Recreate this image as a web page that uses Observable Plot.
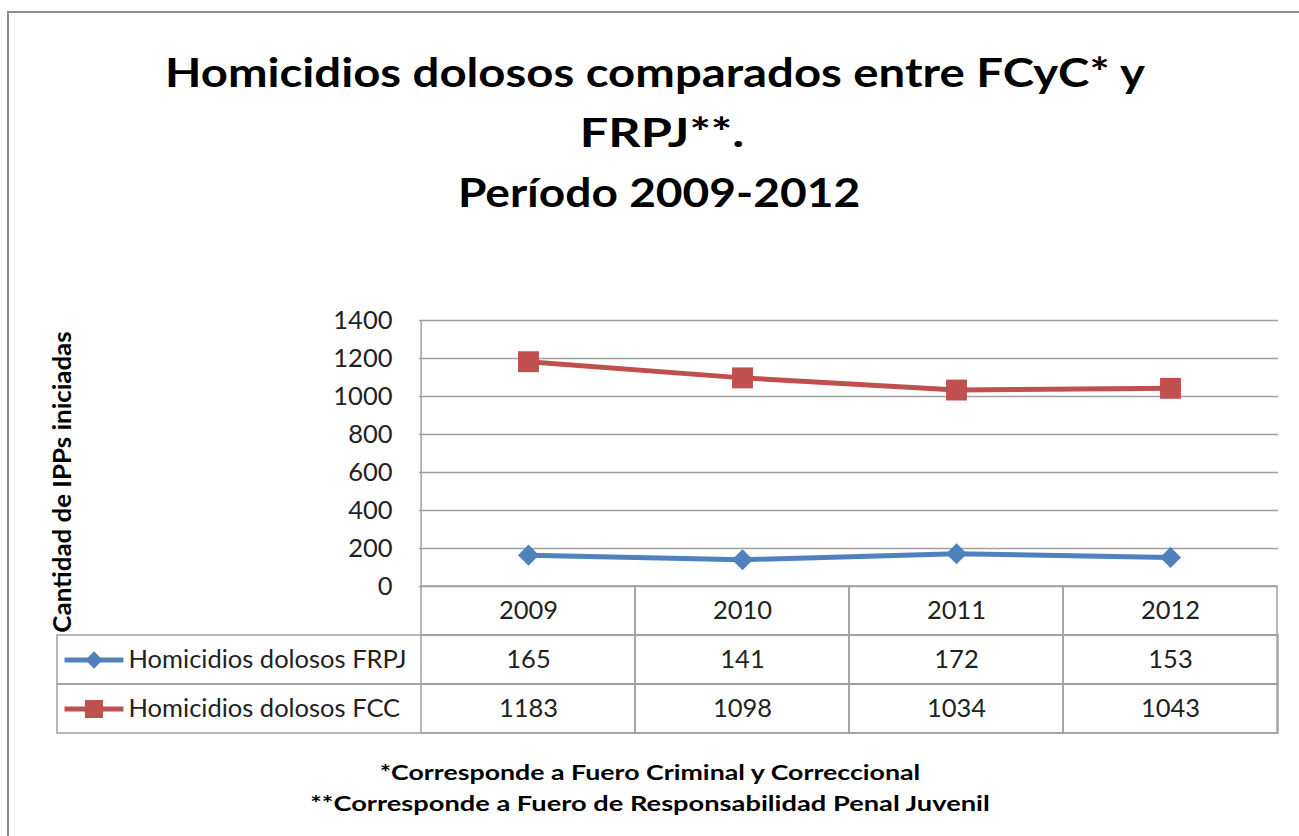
<!DOCTYPE html>
<html>
<head>
<meta charset="utf-8">
<script src="https://cdn.jsdelivr.net/npm/d3@7"></script>
<script src="https://cdn.jsdelivr.net/npm/@observablehq/plot@0.6"></script>
<style>
html, body { margin: 0; padding: 0; background: #fff; }
body { width: 1299px; height: 836px; position: relative; overflow: hidden; font-family: Lato, "Open Sans", sans-serif; color: #000; }
#border { position: absolute; left: 7px; top: 11px; width: 1400px; height: 900px; border-left: 2px solid #8c8c8c; border-top: 2px solid #8c8c8c; }
.line { position: absolute; white-space: nowrap; font-weight: 700; }
.line span { display: inline-block; transform-origin: center center; }
.t { font-size: 40px; line-height: 60px; height: 60px; }
.f { font-size: 20px; line-height: 30px; height: 30px; }
.yt { font-size: 24px; line-height: 30px; height: 30px; }
#chart, #table { position: absolute; left: 0; }
#chart { top: 280px; }
#table { top: 586px; }
</style>
</head>
<body>
<div id="border"></div>
<div id="titles"></div>
<div id="chart"></div>
<div id="table"></div>
<div id="notes"></div>
<script>
// ---- data ----
const years = ["2009", "2010", "2011", "2012"];
const seriesNames = ["Homicidios dolosos FRPJ", "Homicidios dolosos FCC"];
const frpj = [165, 141, 172, 153];
const fcc = [1183, 1098, 1034, 1043];
const yTicks = [0, 200, 400, 600, 800, 1000, 1200, 1400];
const titleLines = ["Homicidios dolosos comparados entre FCyC* y", "FRPJ**.", "Período 2009-2012"];
const yTitle = "Cantidad de IPPs iniciadas";
const notes = ["*Corresponde a Fuero Criminal y Correccional", "**Corresponde a Fuero de Responsabilidad  Penal Juvenil"];
const colors = ["#4F81BD", "#C0504D"];
const symbols = ["diamond2", "square"];

const data = years.flatMap((yr, i) => [
  {year: yr, series: seriesNames[0], value: frpj[i]},
  {year: yr, series: seriesNames[1], value: fcc[i]}
]);
const cells = ["", ...seriesNames].flatMap(row => years.map(yr => ({year: yr, row})));

// ---- layout ----
const W = 1299, mL = 419, mR = 21;
const bw = (W - mL - mR) / years.length;
const grid = "#a0a0a0";
const font = "Lato, 'Open Sans', sans-serif";
const fs = 25.5;

// ---- titles, axis title & notes (HTML) ----
function addLine(parent, text, cls, top, cx, targetW, rot) {
  const d = document.createElement("div");
  d.className = "line " + cls;
  d.style.top = top + "px";
  d.style.left = cx + "px";
  const s = document.createElement("span");
  s.textContent = text;
  d.appendChild(s);
  parent.appendChild(d);
  d._fit = () => {
    s.style.transform = "";
    const w = s.offsetWidth;
    const sc = targetW / w;
    d.style.transform = "translateX(-50%)" + (rot ? ` rotate(${rot}deg)` : "");
    s.style.transform = `scaleX(${sc})`;
  };
  return d;
}
const tdiv = document.getElementById("titles");
const ndiv = document.getElementById("notes");
const fitters = [
  addLine(tdiv, titleLines[0], "t", 41.5, 655, 980),
  addLine(tdiv, titleLines[1], "t", 101.5, 662, 165),
  addLine(tdiv, titleLines[2], "t", 161.5, 659, 402),
  addLine(tdiv, yTitle, "yt", 467, 62, 301, -90),
  addLine(ndiv, notes[0], "f", 757, 650, 540),
  addLine(ndiv, notes[1], "f", 788, 650, 680)
];
fitters.forEach(f => f._fit());
if (document.fonts) document.fonts.ready.then(() => fitters.forEach(f => f._fit()));

// ---- chart ----
const style = {background: "transparent", overflow: "visible", fontFamily: font};
const lineSymbol = {draw(ctx) { ctx.moveTo(-29.5, 0); ctx.lineTo(29.5, 0); }};

const chart = Plot.plot({
  width: W, height: 306,
  marginTop: 40, marginBottom: 0, marginLeft: mL, marginRight: mR,
  style,
  x: {type: "band", domain: years, padding: 0, axis: null},
  y: {domain: [0, 1400]},
  color: {domain: seriesNames, range: colors},
  symbol: {domain: seriesNames, range: symbols},
  marks: [
    Plot.ruleY(yTicks, {stroke: grid, strokeWidth: 1.5}),
    Plot.ruleX(years.slice(0, 1), {x: d => d, dx: -bw / 2, stroke: grid, strokeWidth: 1.5}),
    Plot.axisY(yTicks, {tickSize: 0, tickPadding: 27, tickFormat: d => String(d), fontSize: fs, fill: "#222", label: null}),
    Plot.line(data, {x: "year", y: "value", z: "series", stroke: "series", strokeWidth: 5}),
    Plot.dot(data.filter(d => d.series === seriesNames[0]), {x: "year", y: "value", symbol: "series", fill: "series", r: 9.5}),
    Plot.dot(data.filter(d => d.series === seriesNames[1]), {x: "year", y: "value", symbol: "series", fill: "series", r: 11.8})
  ]
});
document.getElementById("chart").appendChild(chart);

// ---- data table ----
const table = Plot.plot({
  width: W, height: 147,
  marginTop: 0, marginBottom: 0, marginLeft: 57, marginRight: mR,
  style,
  x: {type: "band", domain: years, range: [mL, W - mR], padding: 0, axis: null},
  y: {type: "band", domain: ["", ...seriesNames], padding: 0, axis: null},
  color: {domain: seriesNames, range: colors},
  symbol: {domain: seriesNames, range: symbols},
  marks: [
    Plot.cell(seriesNames, {y: d => d, fill: "none", stroke: grid, strokeWidth: 1.5}),
    Plot.cell(cells, {x: "year", y: "row", fill: "none", stroke: grid, strokeWidth: 1.5}),
    Plot.text(years, {x: d => d, y: () => "", text: d => d, fontSize: fs, fill: "#222"}),
    Plot.text(data, {x: "year", y: "series", text: d => String(d.value), fontSize: fs, fill: "#222"}),
    Plot.dot(seriesNames, {y: d => d, frameAnchor: "left", dx: 36.5, symbol: lineSymbol, stroke: d => d, strokeWidth: 5, fill: "none", r: 10}),
    Plot.dot(seriesNames.slice(0, 1), {y: d => d, frameAnchor: "left", dx: 36.5, symbol: d => d, fill: d => d, r: 7.8}),
    Plot.dot(seriesNames.slice(1), {y: d => d, frameAnchor: "left", dx: 36.5, symbol: d => d, fill: d => d, r: 10.2}),
    Plot.text(seriesNames, {y: d => d, frameAnchor: "left", dx: 71, textAnchor: "start", text: d => d, fontSize: fs, fill: "#222"})
  ]
});
document.getElementById("table").appendChild(table);
</script>
</body>
</html>
